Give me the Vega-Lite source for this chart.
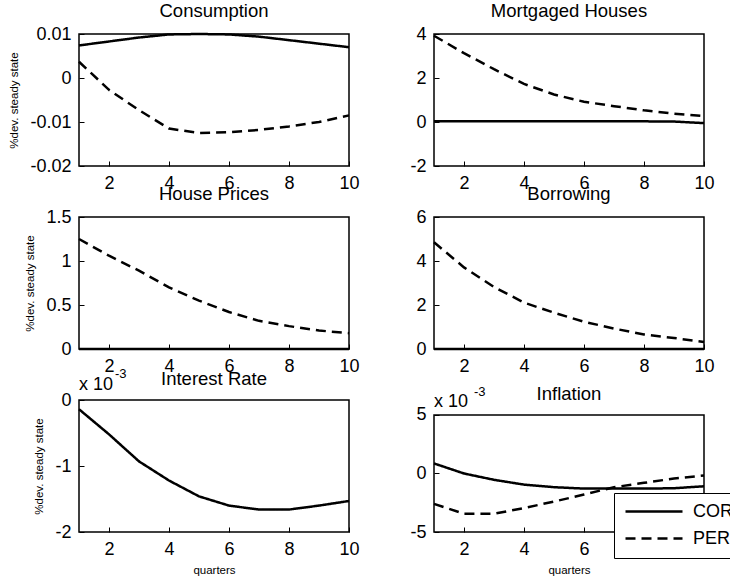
{
  "$schema": "https://vega.github.io/schema/vega-lite/v6.json",
  "padding": {"left": 8, "top": 0, "right": 0, "bottom": 0},
  "datasets": {
    "irf": [
      {"panel": "Consumption", "q": 1, "series": "COR", "value": 0.0074},
      {"panel": "Consumption", "q": 2, "series": "COR", "value": 0.0083},
      {"panel": "Consumption", "q": 3, "series": "COR", "value": 0.0092},
      {"panel": "Consumption", "q": 4, "series": "COR", "value": 0.0099},
      {"panel": "Consumption", "q": 5, "series": "COR", "value": 0.0100},
      {"panel": "Consumption", "q": 6, "series": "COR", "value": 0.0099},
      {"panel": "Consumption", "q": 7, "series": "COR", "value": 0.0094},
      {"panel": "Consumption", "q": 8, "series": "COR", "value": 0.0086},
      {"panel": "Consumption", "q": 9, "series": "COR", "value": 0.0078},
      {"panel": "Consumption", "q": 10, "series": "COR", "value": 0.0070},
      {"panel": "Consumption", "q": 1, "series": "PER", "value": 0.0037},
      {"panel": "Consumption", "q": 2, "series": "PER", "value": -0.0027},
      {"panel": "Consumption", "q": 3, "series": "PER", "value": -0.0073},
      {"panel": "Consumption", "q": 4, "series": "PER", "value": -0.0115},
      {"panel": "Consumption", "q": 5, "series": "PER", "value": -0.0125},
      {"panel": "Consumption", "q": 6, "series": "PER", "value": -0.0123},
      {"panel": "Consumption", "q": 7, "series": "PER", "value": -0.0118},
      {"panel": "Consumption", "q": 8, "series": "PER", "value": -0.0110},
      {"panel": "Consumption", "q": 9, "series": "PER", "value": -0.0100},
      {"panel": "Consumption", "q": 10, "series": "PER", "value": -0.0085},
      {"panel": "Mortgaged Houses", "q": 1, "series": "COR", "value": 0.03},
      {"panel": "Mortgaged Houses", "q": 2, "series": "COR", "value": 0.03},
      {"panel": "Mortgaged Houses", "q": 3, "series": "COR", "value": 0.03},
      {"panel": "Mortgaged Houses", "q": 4, "series": "COR", "value": 0.03},
      {"panel": "Mortgaged Houses", "q": 5, "series": "COR", "value": 0.03},
      {"panel": "Mortgaged Houses", "q": 6, "series": "COR", "value": 0.03},
      {"panel": "Mortgaged Houses", "q": 7, "series": "COR", "value": 0.03},
      {"panel": "Mortgaged Houses", "q": 8, "series": "COR", "value": 0.03},
      {"panel": "Mortgaged Houses", "q": 9, "series": "COR", "value": 0.02},
      {"panel": "Mortgaged Houses", "q": 10, "series": "COR", "value": -0.05},
      {"panel": "Mortgaged Houses", "q": 1, "series": "PER", "value": 3.92},
      {"panel": "Mortgaged Houses", "q": 2, "series": "PER", "value": 3.13},
      {"panel": "Mortgaged Houses", "q": 3, "series": "PER", "value": 2.40},
      {"panel": "Mortgaged Houses", "q": 4, "series": "PER", "value": 1.73},
      {"panel": "Mortgaged Houses", "q": 5, "series": "PER", "value": 1.25},
      {"panel": "Mortgaged Houses", "q": 6, "series": "PER", "value": 0.92},
      {"panel": "Mortgaged Houses", "q": 7, "series": "PER", "value": 0.72},
      {"panel": "Mortgaged Houses", "q": 8, "series": "PER", "value": 0.53},
      {"panel": "Mortgaged Houses", "q": 9, "series": "PER", "value": 0.38},
      {"panel": "Mortgaged Houses", "q": 10, "series": "PER", "value": 0.27},
      {"panel": "House Prices", "q": 1, "series": "COR", "value": 0},
      {"panel": "House Prices", "q": 2, "series": "COR", "value": 0},
      {"panel": "House Prices", "q": 3, "series": "COR", "value": 0},
      {"panel": "House Prices", "q": 4, "series": "COR", "value": 0},
      {"panel": "House Prices", "q": 5, "series": "COR", "value": 0},
      {"panel": "House Prices", "q": 6, "series": "COR", "value": 0},
      {"panel": "House Prices", "q": 7, "series": "COR", "value": 0},
      {"panel": "House Prices", "q": 8, "series": "COR", "value": 0},
      {"panel": "House Prices", "q": 9, "series": "COR", "value": 0},
      {"panel": "House Prices", "q": 10, "series": "COR", "value": 0},
      {"panel": "House Prices", "q": 1, "series": "PER", "value": 1.25},
      {"panel": "House Prices", "q": 2, "series": "PER", "value": 1.06},
      {"panel": "House Prices", "q": 3, "series": "PER", "value": 0.89},
      {"panel": "House Prices", "q": 4, "series": "PER", "value": 0.70},
      {"panel": "House Prices", "q": 5, "series": "PER", "value": 0.55},
      {"panel": "House Prices", "q": 6, "series": "PER", "value": 0.42},
      {"panel": "House Prices", "q": 7, "series": "PER", "value": 0.32},
      {"panel": "House Prices", "q": 8, "series": "PER", "value": 0.26},
      {"panel": "House Prices", "q": 9, "series": "PER", "value": 0.21},
      {"panel": "House Prices", "q": 10, "series": "PER", "value": 0.18},
      {"panel": "Borrowing", "q": 1, "series": "COR", "value": 0},
      {"panel": "Borrowing", "q": 2, "series": "COR", "value": 0},
      {"panel": "Borrowing", "q": 3, "series": "COR", "value": 0},
      {"panel": "Borrowing", "q": 4, "series": "COR", "value": 0},
      {"panel": "Borrowing", "q": 5, "series": "COR", "value": 0},
      {"panel": "Borrowing", "q": 6, "series": "COR", "value": 0},
      {"panel": "Borrowing", "q": 7, "series": "COR", "value": 0},
      {"panel": "Borrowing", "q": 8, "series": "COR", "value": 0},
      {"panel": "Borrowing", "q": 9, "series": "COR", "value": 0},
      {"panel": "Borrowing", "q": 10, "series": "COR", "value": 0},
      {"panel": "Borrowing", "q": 1, "series": "PER", "value": 4.85},
      {"panel": "Borrowing", "q": 2, "series": "PER", "value": 3.71},
      {"panel": "Borrowing", "q": 3, "series": "PER", "value": 2.82},
      {"panel": "Borrowing", "q": 4, "series": "PER", "value": 2.11},
      {"panel": "Borrowing", "q": 5, "series": "PER", "value": 1.65},
      {"panel": "Borrowing", "q": 6, "series": "PER", "value": 1.24},
      {"panel": "Borrowing", "q": 7, "series": "PER", "value": 0.93},
      {"panel": "Borrowing", "q": 8, "series": "PER", "value": 0.66},
      {"panel": "Borrowing", "q": 9, "series": "PER", "value": 0.50},
      {"panel": "Borrowing", "q": 10, "series": "PER", "value": 0.32},
      {"panel": "Interest Rate", "q": 1, "series": "COR", "value": -0.00014},
      {"panel": "Interest Rate", "q": 2, "series": "COR", "value": -0.00052},
      {"panel": "Interest Rate", "q": 3, "series": "COR", "value": -0.00093},
      {"panel": "Interest Rate", "q": 4, "series": "COR", "value": -0.00122},
      {"panel": "Interest Rate", "q": 5, "series": "COR", "value": -0.00146},
      {"panel": "Interest Rate", "q": 6, "series": "COR", "value": -0.00160},
      {"panel": "Interest Rate", "q": 7, "series": "COR", "value": -0.00166},
      {"panel": "Interest Rate", "q": 8, "series": "COR", "value": -0.00166},
      {"panel": "Interest Rate", "q": 9, "series": "COR", "value": -0.00160},
      {"panel": "Interest Rate", "q": 10, "series": "COR", "value": -0.00153},
      {"panel": "Inflation", "q": 1, "series": "COR", "value": 0.00086},
      {"panel": "Inflation", "q": 2, "series": "COR", "value": 0.0},
      {"panel": "Inflation", "q": 3, "series": "COR", "value": -0.00054},
      {"panel": "Inflation", "q": 4, "series": "COR", "value": -0.00095},
      {"panel": "Inflation", "q": 5, "series": "COR", "value": -0.00117},
      {"panel": "Inflation", "q": 6, "series": "COR", "value": -0.00129},
      {"panel": "Inflation", "q": 7, "series": "COR", "value": -0.00129},
      {"panel": "Inflation", "q": 8, "series": "COR", "value": -0.00129},
      {"panel": "Inflation", "q": 9, "series": "COR", "value": -0.00126},
      {"panel": "Inflation", "q": 10, "series": "COR", "value": -0.00109},
      {"panel": "Inflation", "q": 1, "series": "PER", "value": -0.0026},
      {"panel": "Inflation", "q": 2, "series": "PER", "value": -0.00344},
      {"panel": "Inflation", "q": 3, "series": "PER", "value": -0.00344},
      {"panel": "Inflation", "q": 4, "series": "PER", "value": -0.00295},
      {"panel": "Inflation", "q": 5, "series": "PER", "value": -0.0024},
      {"panel": "Inflation", "q": 6, "series": "PER", "value": -0.0018},
      {"panel": "Inflation", "q": 7, "series": "PER", "value": -0.00117},
      {"panel": "Inflation", "q": 8, "series": "PER", "value": -0.0008},
      {"panel": "Inflation", "q": 9, "series": "PER", "value": -0.00043},
      {"panel": "Inflation", "q": 10, "series": "PER", "value": -0.00017}
    ]
  },
  "data": {"name": "irf"},
  "columns": 2,
  "spacing": {"row": 51, "column": 85},
  "bounds": "flush",
  "resolve": {"scale": {"x": "independent", "y": "independent"}},
  "concat": [
    {
      "width": 270, "height": 132,
      "title": "Consumption",
      "transform": [{"filter": "datum.panel === 'Consumption'"}],
      "mark": {"type": "line", "color": "black", "strokeWidth": 2.5},
      "encoding": {
        "x": {"field": "q", "type": "quantitative", "scale": {"domain": [1, 10], "nice": false}, "axis": {"values": [2, 4, 6, 8, 10], "title": null}},
        "y": {"field": "value", "type": "quantitative", "scale": {"domain": [-0.02, 0.01], "nice": false, "zero": false}, "axis": {"values": [-0.02, -0.01, 0, 0.01], "labelExpr": "'' + datum.value", "title": "%dev. steady state"}},
        "strokeDash": {"field": "series", "type": "nominal", "scale": {"domain": ["COR", "PER"], "range": [[1, 0], [10, 6]]}, "legend": {"orient": "none", "legendX": 535, "legendY": 459, "title": null}}
      }
    },
    {
      "width": 270, "height": 132,
      "title": "Mortgaged Houses",
      "transform": [{"filter": "datum.panel === 'Mortgaged Houses'"}],
      "mark": {"type": "line", "color": "black", "strokeWidth": 2.5},
      "encoding": {
        "x": {"field": "q", "type": "quantitative", "scale": {"domain": [1, 10], "nice": false}, "axis": {"values": [2, 4, 6, 8, 10], "title": null}},
        "y": {"field": "value", "type": "quantitative", "scale": {"domain": [-2, 4], "nice": false, "zero": false}, "axis": {"values": [-2, 0, 2, 4], "labelExpr": "'' + datum.value", "title": null}},
        "strokeDash": {"field": "series", "type": "nominal", "scale": {"domain": ["COR", "PER"], "range": [[1, 0], [10, 6]]}, "legend": {"orient": "none", "legendX": 535, "legendY": 459, "title": null}}
      }
    },
    {
      "width": 270, "height": 132,
      "title": "House Prices",
      "transform": [{"filter": "datum.panel === 'House Prices'"}],
      "mark": {"type": "line", "color": "black", "strokeWidth": 2.5},
      "encoding": {
        "x": {"field": "q", "type": "quantitative", "scale": {"domain": [1, 10], "nice": false}, "axis": {"values": [2, 4, 6, 8, 10], "title": null}},
        "y": {"field": "value", "type": "quantitative", "scale": {"domain": [0, 1.5], "nice": false, "zero": false}, "axis": {"values": [0, 0.5, 1, 1.5], "labelExpr": "'' + datum.value", "title": "%dev. steady state"}},
        "strokeDash": {"field": "series", "type": "nominal", "scale": {"domain": ["COR", "PER"], "range": [[1, 0], [10, 6]]}, "legend": {"orient": "none", "legendX": 535, "legendY": 459, "title": null}}
      }
    },
    {
      "width": 270, "height": 132,
      "title": "Borrowing",
      "transform": [{"filter": "datum.panel === 'Borrowing'"}],
      "mark": {"type": "line", "color": "black", "strokeWidth": 2.5},
      "encoding": {
        "x": {"field": "q", "type": "quantitative", "scale": {"domain": [1, 10], "nice": false}, "axis": {"values": [2, 4, 6, 8, 10], "title": null}},
        "y": {"field": "value", "type": "quantitative", "scale": {"domain": [0, 6], "nice": false, "zero": false}, "axis": {"values": [0, 2, 4, 6], "labelExpr": "'' + datum.value", "title": null}},
        "strokeDash": {"field": "series", "type": "nominal", "scale": {"domain": ["COR", "PER"], "range": [[1, 0], [10, 6]]}, "legend": {"orient": "none", "legendX": 535, "legendY": 459, "title": null}}
      }
    },
    {
      "width": 270, "height": 132,
      "title": {"text": "Interest Rate", "offset": -20},
      "transform": [{"filter": "datum.panel === 'Interest Rate'"}],
      "layer": [
        {
          "mark": {"type": "line", "color": "black", "strokeWidth": 2.5},
          "encoding": {
            "x": {"field": "q", "type": "quantitative", "scale": {"domain": [1, 10], "nice": false}, "axis": {"values": [2, 4, 6, 8, 10], "title": "quarters"}},
            "y": {"field": "value", "type": "quantitative", "scale": {"domain": [-0.002, 0], "nice": false, "zero": false}, "axis": {"values": [-0.002, -0.001, 0], "labelExpr": "'' + round(datum.value * 1000)", "title": "%dev. steady state"}},
            "strokeDash": {"field": "series", "type": "nominal", "scale": {"domain": ["COR", "PER"], "range": [[1, 0], [10, 6]]}, "legend": {"orient": "none", "legendX": 535, "legendY": 459, "title": null}}
          }
        },
        {
          "transform": [{"filter": "datum.q === 1"}],
          "mark": {"type": "text", "align": "left", "baseline": "alphabetic", "fontSize": 18, "dy": -10, "color": "black"},
          "encoding": {
            "x": {"datum": 1, "type": "quantitative", "scale": {"domain": [1, 10], "nice": false}, "axis": {"values": [2, 4, 6, 8, 10], "title": "quarters"}},
            "y": {"datum": 0, "type": "quantitative", "scale": {"domain": [-0.002, 0], "nice": false, "zero": false}, "axis": {"values": [-0.002, -0.001, 0], "labelExpr": "'' + round(datum.value * 1000)", "title": "%dev. steady state"}},
            "text": {"value": "x 10"}
          }
        },
        {
          "transform": [{"filter": "datum.q === 1"}],
          "mark": {"type": "text", "align": "left", "baseline": "alphabetic", "fontSize": 13, "dx": 36, "dy": -22, "color": "black"},
          "encoding": {
            "x": {"datum": 1, "type": "quantitative", "scale": {"domain": [1, 10], "nice": false}, "axis": {"values": [2, 4, 6, 8, 10], "title": "quarters"}},
            "y": {"datum": 0, "type": "quantitative", "scale": {"domain": [-0.002, 0], "nice": false, "zero": false}, "axis": {"values": [-0.002, -0.001, 0], "labelExpr": "'' + round(datum.value * 1000)", "title": "%dev. steady state"}},
            "text": {"value": "-3"}
          }
        }
      ]
    },
    {
      "width": 270, "height": 132,
      "title": {"text": "Inflation", "offset": -18},
      "view": {"stroke": null},
      "transform": [{"filter": "datum.panel === 'Inflation'"}],
      "layer": [
        {
          "transform": [{"filter": "datum.q === 1 && datum.series === 'COR'"}],
          "mark": {"type": "rect", "fillOpacity": 0, "stroke": "black", "strokeWidth": 1.5},
          "encoding": {
            "x": {"datum": 1, "type": "quantitative", "scale": {"domain": [1, 10], "nice": false}, "axis": {"values": [2, 4, 6, 8, 10], "title": "quarters"}},
            "x2": {"datum": 10},
            "y": {"datum": -0.005, "type": "quantitative", "scale": {"domain": [-0.005, 0.006282], "nice": false, "zero": false}, "axis": {"values": [-0.005, 0, 0.005], "labelExpr": "'' + round(datum.value * 1000)", "title": null}},
            "y2": {"datum": 0.005}
          }
        },
        {
          "mark": {"type": "line", "color": "black", "strokeWidth": 2.5},
          "encoding": {
            "x": {"field": "q", "type": "quantitative", "scale": {"domain": [1, 10], "nice": false}, "axis": {"values": [2, 4, 6, 8, 10], "title": "quarters"}},
            "y": {"field": "value", "type": "quantitative", "scale": {"domain": [-0.005, 0.006282], "nice": false, "zero": false}, "axis": {"values": [-0.005, 0, 0.005], "labelExpr": "'' + round(datum.value * 1000)", "title": null}},
            "strokeDash": {"field": "series", "type": "nominal", "scale": {"domain": ["COR", "PER"], "range": [[1, 0], [10, 6]]}, "legend": {"orient": "none", "legendX": 535, "legendY": 459, "title": null}}
          }
        },
        {
          "transform": [{"filter": "datum.q === 1 && datum.series === 'COR'"}],
          "mark": {"type": "text", "align": "left", "baseline": "alphabetic", "fontSize": 18, "dy": -8, "color": "black"},
          "encoding": {
            "x": {"datum": 1, "type": "quantitative", "scale": {"domain": [1, 10], "nice": false}, "axis": {"values": [2, 4, 6, 8, 10], "title": "quarters"}},
            "y": {"datum": 0.005, "type": "quantitative", "scale": {"domain": [-0.005, 0.006282], "nice": false, "zero": false}, "axis": {"values": [-0.005, 0, 0.005], "labelExpr": "'' + round(datum.value * 1000)", "title": null}},
            "text": {"value": "x 10"}
          }
        },
        {
          "transform": [{"filter": "datum.q === 1 && datum.series === 'COR'"}],
          "mark": {"type": "text", "align": "left", "baseline": "alphabetic", "fontSize": 13, "dx": 40, "dy": -19, "color": "black"},
          "encoding": {
            "x": {"datum": 1, "type": "quantitative", "scale": {"domain": [1, 10], "nice": false}, "axis": {"values": [2, 4, 6, 8, 10], "title": "quarters"}},
            "y": {"datum": 0.005, "type": "quantitative", "scale": {"domain": [-0.005, 0.006282], "nice": false, "zero": false}, "axis": {"values": [-0.005, 0, 0.005], "labelExpr": "'' + round(datum.value * 1000)", "title": null}},
            "text": {"value": "-3"}
          }
        }
      ]
    }
  ],
  "config": {
    "font": "Liberation Sans",
    "view": {"stroke": "black", "strokeWidth": 1.5},
    "axis": {
      "grid": false, "domain": false,
      "labelFontSize": 18, "labelColor": "black", "labelFont": "Liberation Sans",
      "labelFlush": false, "labelOverlap": false,
      "tickColor": "black", "tickSize": -5, "tickWidth": 1,
      "titleFontSize": 11.5, "titleFontWeight": "normal", "titleColor": "black", "titleFont": "Liberation Sans"
    },
    "axisX": {"labelPadding": 13, "titlePadding": 6},
    "axisY": {"labelPadding": 13, "titlePadding": 10},
    "title": {"fontSize": 18.5, "fontWeight": "normal", "color": "black", "font": "Liberation Sans", "offset": 5},
    "legend": {
      "symbolType": "stroke", "symbolSize": 3249, "symbolStrokeWidth": 2.5, "symbolStrokeColor": "black",
      "clipHeight": 17,
      "labelFontSize": 18, "labelColor": "black", "labelFont": "Liberation Sans", "labelOffset": 9,
      "rowPadding": 8, "padding": 10, "strokeColor": "black", "fillColor": "white"
    }
  }
}
